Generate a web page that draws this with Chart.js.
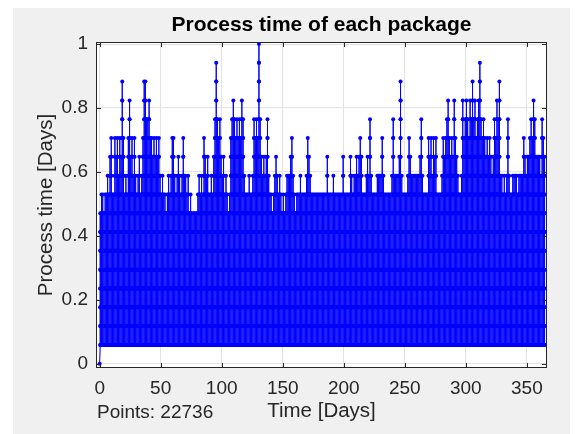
<!DOCTYPE html>
<html lang="en">
<head>
<meta charset="UTF-8">
<title>Process time of each package</title>
<script src="https://cdn.jsdelivr.net/npm/chart.js@4.4.0/dist/chart.umd.min.js"></script>
<style>
    body { margin: 0; background: #ffffff; }
    canvas { display: block; }
</style>
</head>
<body>
<canvas id="graph" width="584" height="434"></canvas>
<script>
// process times only take these values (steps of about 1/17 day)
const levelValues = [0.0588, 0.1176, 0.1765, 0.2353, 0.2941, 0.3529, 0.4118, 0.4706, 0.5294,
                     0.5882, 0.6471, 0.7059, 0.7647, 0.8235, 0.8824, 0.9412, 1.0];

// highest level reached on each day (1 -> 0.0588 ... 17 -> 1.0)
const peakDays0to89 = [
    8, 9, 9, 8, 9, 9, 10, 9, 11, 12,
    9, 9, 12, 11, 12, 10, 12, 11, 15, 12,
    9, 10, 9, 12, 14, 11, 12, 10, 12, 10,
    9, 10, 11, 9, 10, 12, 15, 15, 13, 13,
    14, 12, 12, 11, 12, 11, 12, 11, 12, 10,
    9, 10, 9, 9, 8, 9, 10, 9, 10, 12,
    12, 10, 9, 10, 11, 10, 9, 10, 12, 10,
    10, 9, 10, 8, 9, 8, 8, 8, 8, 8,
    9, 10, 9, 10, 9, 12, 11, 10, 11, 9
];
const peakDays90to179 = [
    9, 10, 9, 11, 13, 16, 13, 12, 13, 11,
    10, 11, 9, 10, 9, 8, 9, 12, 13, 14,
    13, 12, 13, 12, 13, 12, 14, 13, 10, 9,
    9, 9, 10, 9, 9, 10, 13, 12, 13, 12,
    17, 13, 11, 10, 11, 10, 11, 13, 10, 9,
    9, 8, 9, 10, 11, 10, 9, 10, 9, 8,
    9, 8, 9, 10, 10, 10, 11, 12, 10, 9,
    8, 9, 9, 9, 10, 9, 9, 9, 9, 10,
    12, 11, 10, 9, 9, 9, 9, 9, 9, 9
];
const peakDays180to269 = [
    9, 9, 9, 9, 9, 9, 11, 9, 9, 9,
    9, 10, 9, 9, 9, 9, 9, 9, 9, 11,
    9, 9, 9, 9, 9, 11, 10, 9, 10, 10,
    11, 10, 11, 12, 11, 9, 9, 9, 10, 11,
    10, 13, 10, 9, 9, 9, 9, 10, 10, 10,
    10, 12, 10, 9, 9, 9, 9, 9, 9, 10,
    13, 10, 10, 10, 10, 11, 15, 10, 9, 9,
    9, 9, 10, 12, 11, 10, 10, 10, 10, 10,
    10, 10, 11, 13, 10, 9, 9, 9, 9, 12
];
const peakDays270to364 = [
    11, 12, 10, 12, 11, 12, 9, 9, 9, 9,
    10, 12, 11, 12, 13, 14, 12, 11, 12, 11,
    14, 12, 11, 10, 9, 9, 10, 14, 12, 13,
    14, 13, 12, 14, 13, 15, 13, 14, 12, 13,
    14, 16, 13, 12, 13, 12, 11, 12, 11, 12,
    11, 10, 11, 13, 12, 14, 13, 15, 10, 10,
    9, 10, 9, 10, 13, 10, 9, 9, 10, 10,
    10, 10, 9, 10, 10, 10, 10, 12, 11, 10,
    11, 11, 12, 13, 12, 14, 13, 11, 11, 11,
    11, 10, 13, 12, 11
];

const xTicks = [0, 50, 100, 150, 200, 250, 300, 350];
const yTicks = [0, 0.2, 0.4, 0.6, 0.8, 1];
const pointCount = 22736;

// one up-and-down stroke per day through every level up to that day's peak
const peaks = [].concat(peakDays0to89, peakDays90to179, peakDays180to269, peakDays270to364);
const points = [{x: 0, y: 0}];
peaks.forEach((top, day) => {
    const x = day + 0.5;
    for (let k = 0; k < top; k++) points.push({x: x, y: levelValues[k]});
    for (let k = top - 2; k >= 0; k--) points.push({x: x, y: levelValues[k]});
});

const ink = '#262626';
const fontFamily = '"Liberation Sans", Arial, Helvetica, sans-serif';
Chart.defaults.font.family = fontFamily;

const matlabFrame = {
    id: 'matlabFrame',
    beforeDraw(chart) {
        const {ctx, chartArea: a} = chart;
        ctx.save();
        ctx.fillStyle = '#ffffff';
        ctx.fillRect(0, 0, chart.width, chart.height);
        ctx.fillStyle = '#f0f0f0';
        ctx.fillRect(13, 8, 557, 426);
        ctx.fillStyle = '#ffffff';
        ctx.fillRect(a.left, a.top, a.right - a.left, a.bottom - a.top);
        ctx.restore();
    },
    afterDraw(chart) {
        const {ctx, chartArea: a, scales} = chart;
        ctx.save();
        ctx.strokeStyle = ink;
        ctx.lineWidth = 1;
        ctx.strokeRect(a.left + 0.5, a.top + 0.5, a.right - a.left - 1, a.bottom - a.top - 1);
        ctx.beginPath();
        xTicks.forEach(v => {
            const px = Math.round(scales.x.getPixelForValue(v)) + 0.5;
            ctx.moveTo(px, a.bottom); ctx.lineTo(px, a.bottom - 5);
            ctx.moveTo(px, a.top); ctx.lineTo(px, a.top + 5);
        });
        yTicks.forEach(v => {
            const py = Math.round(scales.y.getPixelForValue(v)) + 0.5;
            ctx.moveTo(a.left, py); ctx.lineTo(a.left + 5, py);
            ctx.moveTo(a.right, py); ctx.lineTo(a.right - 5, py);
        });
        ctx.stroke();

        ctx.fillStyle = '#000000';
        ctx.textAlign = 'center';
        ctx.textBaseline = 'middle';
        ctx.font = 'bold 21px ' + fontFamily;
        ctx.fillText('Process time of each package', (a.left + a.right) / 2, 25);
        ctx.textAlign = 'left';
        ctx.font = '19px ' + fontFamily;
        ctx.fillStyle = ink;
        ctx.fillText('Points: ' + pointCount, 97, 413);
        ctx.restore();
    }
};

new Chart(document.getElementById('graph'), {
    type: 'line',
    data: {
        datasets: [{
            data: points,
            borderColor: '#0000ff',
            backgroundColor: '#0000ff',
            borderWidth: 1,
            pointRadius: 2,
            pointBorderWidth: 0,
            pointBackgroundColor: '#0000ff',
            tension: 0,
            fill: false
        }]
    },
    options: {
        responsive: false,
        animation: false,
        devicePixelRatio: 1,
        parsing: false,
        normalized: true,
        layout: { padding: { left: 0, top: 42, right: 37, bottom: 0 } },
        plugins: {
            legend: { display: false },
            tooltip: { enabled: false }
        },
        scales: {
            x: {
                type: 'linear',
                min: -3,
                max: 366.5,
                afterBuildTicks: s => { s.ticks = xTicks.map(v => ({value: v})); },
                afterFit: s => { s.height = 66; },
                grid: { color: '#e2e2e2', drawTicks: false },
                border: { display: false },
                ticks: { color: ink, font: { size: 19 }, padding: 9, maxRotation: 0, autoSkip: false },
                title: {
                    display: true,
                    text: 'Time [Days]',
                    color: ink,
                    font: { size: 20.5 },
                    padding: { top: 0, bottom: 10.7 }
                }
            },
            y: {
                min: -0.0135,
                max: 1.0063,
                afterBuildTicks: s => { s.ticks = yTicks.map(v => ({value: v})); },
                afterFit: s => { s.width = 96; },
                grid: { color: '#e2e2e2', drawTicks: false },
                border: { display: false },
                ticks: { color: ink, font: { size: 19 }, padding: 8, callback: v => String(v) },
                title: {
                    display: true,
                    text: 'Process time [Days]',
                    color: ink,
                    font: { size: 20.5 },
                    padding: { top: 33.7, bottom: 0 }
                }
            }
        }
    },
    plugins: [matlabFrame]
});
</script>
</body>
</html>
